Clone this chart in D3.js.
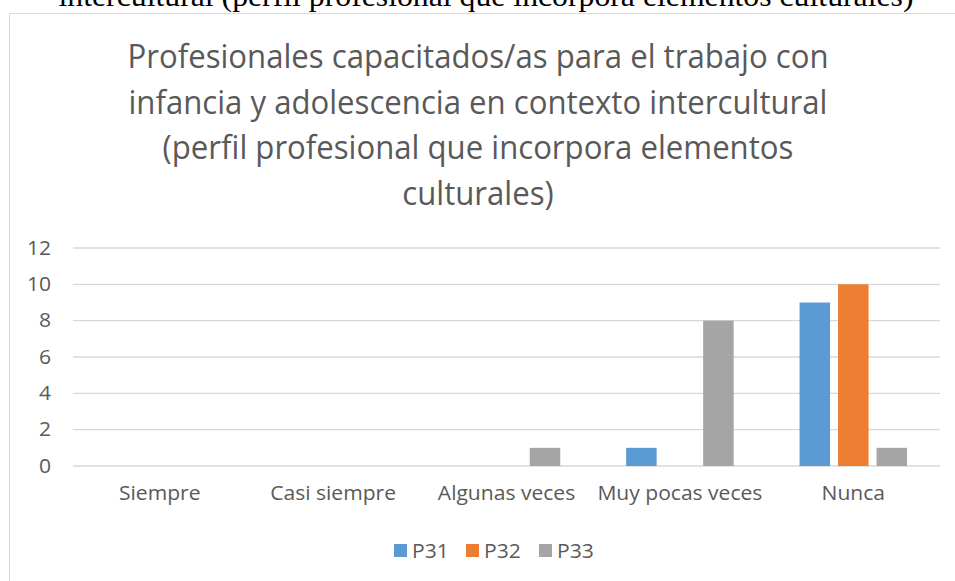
<!DOCTYPE html>
<html lang="en">
<head>
<meta charset="utf-8">
<script src="https://d3js.org/d3.v7.min.js"></script>
<style>
  body { margin: 0; background: #fff; }
  text { font-family: "Open Sans", sans-serif; fill: #595959; }
</style>
</head>
<body>
<script>
// data
const categories = ["Siempre", "Casi siempre", "Algunas veces", "Muy pocas veces", "Nunca"];
const seriesNames = ["P31", "P32", "P33"];
const p31 = [0, 0, 0, 1, 9];
const p32 = [0, 0, 0, 0, 10];
const p33 = [0, 0, 1, 8, 1];
const yTicks = [0, 2, 4, 6, 8, 10, 12];
const colors = ["#5B9BD5", "#ED7D31", "#A5A5A5"];
const titleLines = [
  "Profesionales capacitados/as para el trabajo con",
  "infancia y adolescencia en contexto intercultural",
  "(perfil profesional que incorpora elementos",
  "culturales)"
];
const caption = "intercultural (perfil profesional que incorpora elementos culturales)";

const W = 955, H = 581;
const svg = d3.select("body").append("svg")
  .attr("width", W)
  .attr("height", H);

svg.append("rect").attr("width", W).attr("height", H).attr("fill", "#fff");

// squeeze a text to mimic the narrower office font
function squeeze(t, k) {
  t.each(function () {
    const w = this.getComputedTextLength();
    d3.select(this).attr("textLength", w * k).attr("lengthAdjust", "spacingAndGlyphs");
  });
}

// caption of the document, cut at the top
const cap = svg.append("text")
  .attr("x", 486).attr("y", 6)
  .attr("text-anchor", "middle")
  .style("font-family", "'Liberation Serif', 'Times New Roman', serif")
  .style("font-size", "29px")
  .style("fill", "#000")
  .text(caption);
cap.attr("textLength", 855).attr("lengthAdjust", "spacingAndGlyphs");

// chart frame
svg.append("rect")
  .attr("x", 9.5).attr("y", 13.5)
  .attr("width", 1000).attr("height", 700)
  .attr("fill", "none")
  .attr("stroke", "#d9d9d9");

// title
const tl = svg.append("g").selectAll("text")
  .data(titleLines)
  .enter().append("text")
  .attr("x", 478)
  .attr("y", (d, i) => 68 + i * 45.5)
  .attr("text-anchor", "middle")
  .style("font-size", "32.5px")
  .text(d => d);
const kTitle = 701 / tl.nodes()[0].getComputedTextLength();
squeeze(tl, kTitle);

// scales
const x = d3.scaleBand().domain(categories).range([73, 940]);
const xs = d3.scaleBand().domain(seriesNames).range([-53.75, 53.75]).paddingInner(0.208);
const y = d3.scaleLinear().domain([0, 12]).range([466, 248]);

// gridlines
svg.append("g")
  .selectAll("line")
  .data(yTicks)
  .enter().append("line")
  .attr("x1", 73).attr("x2", 940)
  .attr("y1", d => y(d)).attr("y2", d => y(d))
  .attr("stroke", "#d9d9d9")
  .attr("stroke-width", 1.3);

// y axis labels
const yAxis = svg.append("g")
  .attr("transform", "translate(73,0)")
  .call(d3.axisLeft(y).tickValues(yTicks).tickSize(0).tickPadding(22));
yAxis.select(".domain").remove();
yAxis.selectAll("text")
  .style("font-family", "'Open Sans', sans-serif")
  .style("font-size", "19.5px")
  .attr("fill", "#595959");

// x axis labels
const xAxis = svg.append("g")
  .attr("transform", "translate(0,466)")
  .call(d3.axisBottom(x).tickSize(0).tickPadding(20));
xAxis.select(".domain").remove();
xAxis.selectAll("text")
  .style("font-family", "'Open Sans', sans-serif")
  .style("font-size", "19.5px")
  .attr("fill", "#595959");

// condensation taken from "Muy pocas veces" (about 165px wide)
let kAxis = 1;
xAxis.selectAll("text").each(function (d) {
  if (d === "Muy pocas veces") kAxis = 165 / this.getComputedTextLength();
});
squeeze(xAxis.selectAll("text"), kAxis);
squeeze(yAxis.selectAll("text"), kAxis);

// bars
const rows = categories.map((c, i) => ({ cat: c, vals: [p31[i], p32[i], p33[i]] }));
const groups = svg.append("g")
  .selectAll("g")
  .data(rows)
  .enter().append("g")
  .attr("transform", d => "translate(" + (x(d.cat) + x.bandwidth() / 2) + ",0)");

groups.selectAll("rect")
  .data(d => d.vals.map((v, j) => ({ name: seriesNames[j], v: v, c: colors[j] })))
  .enter().append("rect")
  .filter(d => d.v > 0)
  .attr("x", d => xs(d.name))
  .attr("width", xs.bandwidth())
  .attr("y", d => y(d.v))
  .attr("height", d => y(0) - y(d.v))
  .attr("fill", d => d.c);

// legend
const legX = [394, 466, 539];
const leg = svg.append("g")
  .selectAll("g")
  .data(seriesNames)
  .enter().append("g")
  .attr("transform", (d, i) => "translate(" + legX[i] + ",544)");
leg.append("rect")
  .attr("width", 13).attr("height", 13)
  .attr("fill", (d, i) => colors[i]);
const legText = leg.append("text")
  .attr("x", 18).attr("y", 13.5)
  .style("font-size", "19.5px")
  .text(d => d);
squeeze(legText, kAxis);
</script>
</body>
</html>
